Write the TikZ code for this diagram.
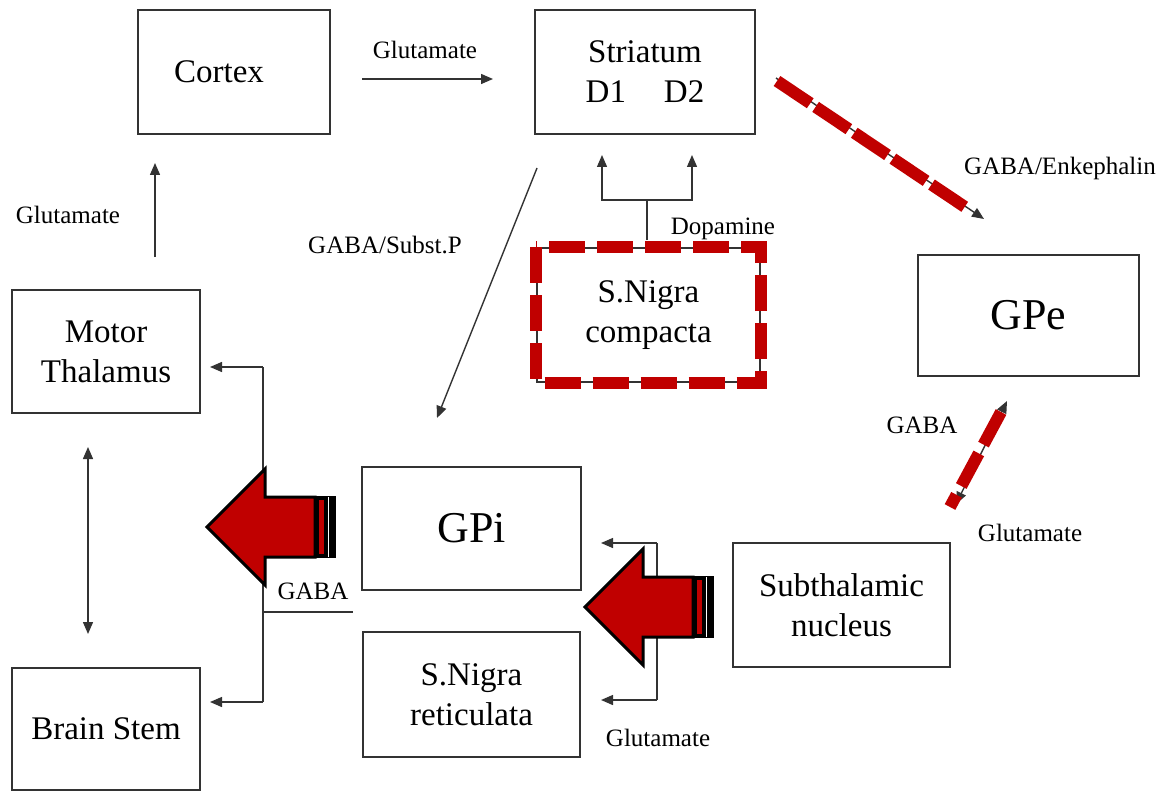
\documentclass[tikz,border=0pt]{standalone}
\usepackage{fontspec}
\setmainfont{Liberation Serif}
\usetikzlibrary{arrows.meta}
\definecolor{dred}{RGB}{192,0,0}
\begin{document}
\begin{tikzpicture}[x=0.5pt,y=-0.5pt,
  box/.style={draw=black!80, line width=0.8pt, inner sep=0pt, align=center,
    font=\fontsize{16.5}{20}\selectfont},
  bigtxt/.style={font=\fontsize{22}{26}\selectfont},
  lbl/.style={font=\fontsize{12.5}{15}\selectfont, inner sep=0pt},
  wire/.style={draw=black!80, line width=0.7pt},
  arr/.style={wire, -{Triangle[length=6pt,width=5pt]}},
  darr/.style={wire, {Triangle[length=6pt,width=5pt]}-{Triangle[length=6pt,width=5pt]}},
  reddash/.style={draw=dred, line width=6pt},
  bigarrow/.pic={
    \fill[black] (108,-31) rectangle (129,31);
    \fill[dred] (112,-27) rectangle (117,27);
    \draw[white, line width=0.3pt] (121,-30) -- (121,30);
    \draw[fill=dred, line width=1.5pt, line join=miter]
      (0,0) -- (58,-58) -- (58,-30) -- (108,-30) -- (108,30) -- (58,30) -- (58,58) -- cycle;
  }
]
\useasboundingbox (0,0) rectangle (1170,791);

% boxes
\node[box, minimum width=96pt, minimum height=62pt] (cortex) at (234,72) {Cortex\hspace{15pt}};
\node[box, minimum width=110pt, minimum height=62pt] (striatum) at (645,72) {Striatum\\D1\hspace{1.15em}D2};
\node[box, bigtxt, minimum width=110.5pt, minimum height=60.5pt] (gpe) at (1028.5,315.5) {GPe};
\node[box, minimum width=94pt, minimum height=61.5pt] (thal) at (106,351.5) {Motor\\Thalamus};
\node[box, minimum width=111.5pt, minimum height=67pt] (snc) at (648.5,315) {S.Nigra\\compacta};
\node[box, bigtxt, minimum width=109.5pt, minimum height=61.5pt] (gpi) at (471.5,528.5) {GPi};
\node[box, minimum width=108.5pt, minimum height=62pt] (stn) at (841.5,605) {Subthalamic\\nucleus};
\node[box, minimum width=108.5pt, minimum height=62.5pt] (snr) at (471.5,694.5) {S.Nigra\\reticulata};
\node[box, minimum width=94pt, minimum height=61pt] (bs) at (106,729) {Brain Stem};

% red dashed border of SNc
\draw[reddash, dash pattern=on 18pt off 6pt] (snc.north west) rectangle (snc.south east);

% Cortex -> Striatum
\coordinate (c1) at (362,79);
\coordinate (c2) at (493,79);
\draw[arr] (c1) -- (c2);
\node[lbl] (lglu1) at (425,50) {Glutamate};

% Thalamus -> Cortex
\coordinate (t1) at (155,257);
\coordinate (t2) at (155,163);
\draw[arr] (t1) -- (t2);
\node[lbl] (lglu2) at (68,215) {Glutamate};

% Striatum -> GPi
\coordinate (s1) at (537,168);
\coordinate (s2) at (437,418);
\draw[arr] (s1) -- (s2);
\node[lbl] (lsubp) at (385,245) {GABA/Subst.P};

% Dopamine
\coordinate (dbot) at (647,240);
\coordinate (dmid) at (647,200);
\coordinate (dl) at (602,155);
\coordinate (dr) at (692,155);
\draw[wire] (dbot) -- (dmid);
\draw[arr] (dmid) -| (dl);
\draw[arr] (dmid) -| (dr);
\node[lbl] (ldop) at (723,229) {Dopamine};

% Striatum -> GPe (red dashed)
\coordinate (e1) at (776,78);
\coordinate (e2) at (984,219);
\coordinate (r1) at (777,81);
\coordinate (r2) at (965,207);
\draw[arr] (e1) -- (e2);
\draw[reddash, dash pattern=on 20pt off 3.25pt] (r1) -- (r2);
\node[lbl] (lenk) at (1060,168) {GABA/Enkephalin};

% GPe <-> STN (red dashed)
\coordinate (g1) at (956,504);
\coordinate (g2) at (1007,401);
\coordinate (q1) at (1001,412);
\coordinate (q2) at (950,507);
\draw[darr] (g1) -- (g2);
\draw[reddash, dash pattern=on 18.5pt off 5pt] (q1) -- (q2);
\node[lbl] (lgaba1) at (922,425) {GABA};
\node[lbl] (lglu3) at (1030,533) {Glutamate};

% Thalamus <-> Brain Stem
\coordinate (b1) at (88,447);
\coordinate (b2) at (88,634);
\draw[darr] (b1) -- (b2);

% GPi/SNr output
\coordinate (o1) at (263,367);
\coordinate (o2) at (263,702);
\coordinate (o1t) at (210,367);
\coordinate (o2t) at (210,702);
\coordinate (h1) at (263,612);
\coordinate (h2) at (353,612);
\draw[wire] (o1) -- (o2);
\draw[arr] (o1) -- (o1t);
\draw[arr] (o2) -- (o2t);
\draw[wire] (h1) -- (h2);
\node[lbl] (lgaba2) at (313,591) {GABA};

% STN -> GPi / SNr
\coordinate (n1) at (657,543);
\coordinate (n2) at (657,700);
\coordinate (n1t) at (601,543);
\coordinate (n2t) at (601,700);
\draw[wire] (n1) -- (n2);
\draw[arr] (n1) -- (n1t);
\draw[arr] (n2) -- (n2t);
\node[lbl] (lglu4) at (658,738) {Glutamate};

% big red arrows
\pic at (207,527) {bigarrow};
\pic at (585,607) {bigarrow};
\end{tikzpicture}
\end{document}
